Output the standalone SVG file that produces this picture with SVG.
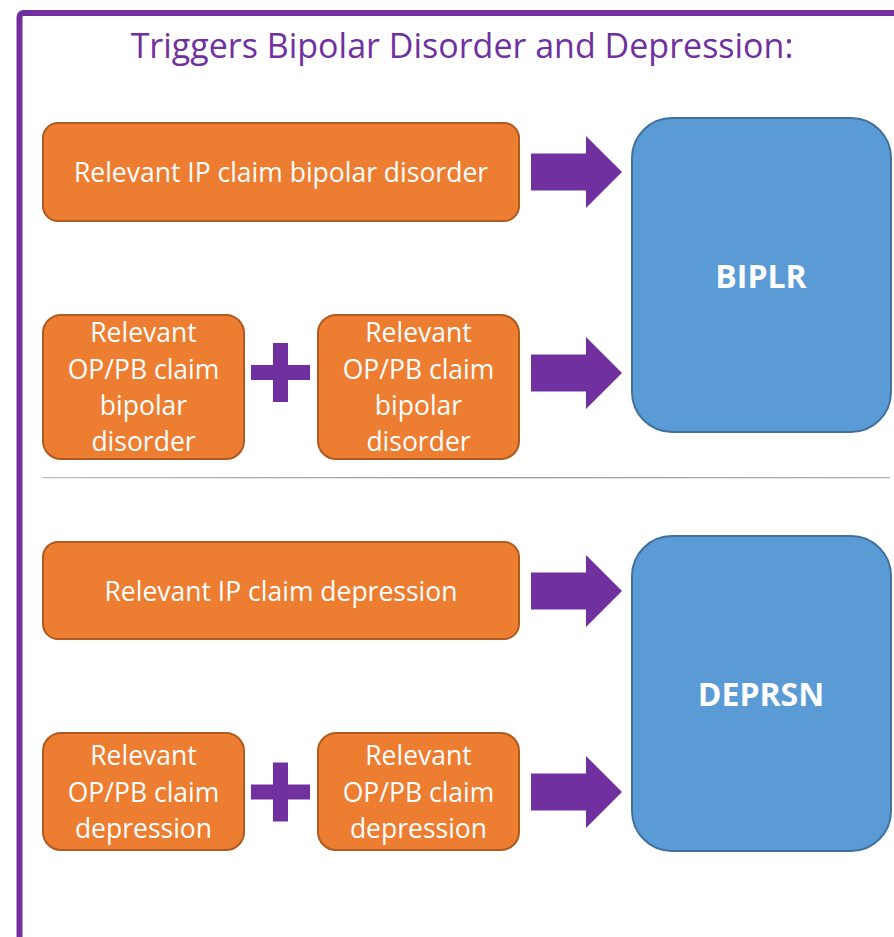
<svg xmlns="http://www.w3.org/2000/svg" width="894" height="937" viewBox="0 0 894 937">
  <style>
    .trigger { fill: #ED7D31; stroke: #AE5A21; stroke-width: 2; }
    .outcome { fill: #5B9BD5; stroke: #41719C; stroke-width: 2; }
    .label { font-family: "Open Sans", "Noto Sans", sans-serif; font-size: 26.5px; fill: #FFFFFF; text-anchor: middle; }
    .code { font-family: "Open Sans", "Noto Sans", sans-serif; font-size: 32px; font-weight: bold; fill: #FFFFFF; text-anchor: middle; }
    .title { font-family: "Open Sans", "Noto Sans", sans-serif; font-size: 34px; fill: #7030A0; text-anchor: middle; }
    .sym { fill: #7030A0; }
  </style>
  <defs>
    <!-- block arrow centred vertically on y=0 -->
    <polygon id="blockArrow" class="sym" points="531,-18.5 586,-18.5 586,-36 622,0 586,36 586,18.5 531,18.5"/>
    <!-- plus sign centred on (0,0) -->
    <path id="plusSign" class="sym" d="M-7.5,-29.5 H7.5 V-7.5 H29.5 V7.5 H7.5 V29.5 H-7.5 V7.5 H-29.5 V-7.5 H-7.5 Z"/>
    <linearGradient id="ruleGrad" x1="0" y1="0" x2="1" y2="0">
      <stop offset="0" stop-color="#BFBFBF"/>
      <stop offset="0.5" stop-color="#9A9A9A"/>
      <stop offset="1" stop-color="#B0B0B0"/>
    </linearGradient>
  </defs>

  <rect x="0" y="0" width="894" height="937" fill="#FFFFFF"/>

  <!-- outer frame -->
  <rect id="frame" x="19.5" y="13" width="900" height="1000" rx="4" fill="none" stroke="#7030A0" stroke-width="6"/>

  <g id="title">
    <text class="title" x="462" y="58">Triggers Bipolar Disorder and Depression:</text>
  </g>

  <!-- separator between sections -->
  <rect id="divider" x="42" y="477" width="848" height="1.3" fill="url(#ruleGrad)"/>

  <!-- bipolar section -->
  <g id="ip-bipolar">
    <rect class="trigger" x="43" y="123" width="476" height="98" rx="15"/>
    <text class="label" x="281" y="182">Relevant IP claim bipolar disorder</text>
  </g>
  <g id="op-bipolar-1">
    <rect class="trigger" x="43" y="315" width="201" height="144" rx="18"/>
    <text class="label" x="143.5" y="342">Relevant</text>
    <text class="label" x="143.5" y="379">OP/PB claim</text>
    <text class="label" x="143.5" y="415">bipolar</text>
    <text class="label" x="143.5" y="451">disorder</text>
  </g>
  <g id="op-bipolar-2">
    <rect class="trigger" x="318" y="315" width="201" height="144" rx="18"/>
    <text class="label" x="418.5" y="342">Relevant</text>
    <text class="label" x="418.5" y="379">OP/PB claim</text>
    <text class="label" x="418.5" y="415">bipolar</text>
    <text class="label" x="418.5" y="451">disorder</text>
  </g>
  <g id="biplr">
    <rect class="outcome" x="632" y="118" width="259" height="314" rx="40"/>
    <text class="code" x="761" y="288">BIPLR</text>
  </g>

  <!-- depression section -->
  <g id="ip-depression">
    <rect class="trigger" x="43" y="542" width="476" height="97" rx="15"/>
    <text class="label" x="281" y="601">Relevant IP claim depression</text>
  </g>
  <g id="op-depression-1">
    <rect class="trigger" x="43" y="733" width="201" height="117" rx="18"/>
    <text class="label" x="143.5" y="765">Relevant</text>
    <text class="label" x="143.5" y="802">OP/PB claim</text>
    <text class="label" x="143.5" y="838">depression</text>
  </g>
  <g id="op-depression-2">
    <rect class="trigger" x="318" y="733" width="201" height="117" rx="18"/>
    <text class="label" x="418.5" y="765">Relevant</text>
    <text class="label" x="418.5" y="802">OP/PB claim</text>
    <text class="label" x="418.5" y="838">depression</text>
  </g>
  <g id="deprsn">
    <rect class="outcome" x="632" y="536" width="259" height="315" rx="40"/>
    <text class="code" x="761" y="706">DEPRSN</text>
  </g>

  <!-- connectors: block arrows and plus signs -->
  <g id="connectors">
    <use href="#blockArrow" transform="translate(0,172)"/>
    <use href="#blockArrow" transform="translate(0,373)"/>
    <use href="#blockArrow" transform="translate(0,591)"/>
    <use href="#blockArrow" transform="translate(0,792)"/>
    <use href="#plusSign" transform="translate(280.5,372.5)"/>
    <use href="#plusSign" transform="translate(280.5,792)"/>
  </g>
</svg>
